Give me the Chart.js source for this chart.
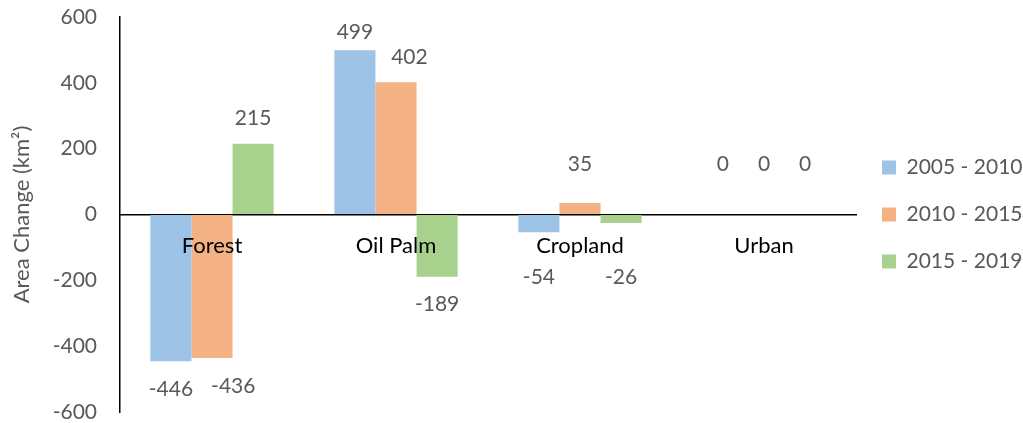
<!DOCTYPE html>
<html>
<head>
<meta charset="utf-8">
<script src="https://cdn.jsdelivr.net/npm/chart.js@4.4.1/dist/chart.umd.min.js"></script>
<style>
  html, body { margin: 0; padding: 0; background: #fff; }
  #wrap { width: 1023px; height: 423px; }
</style>
</head>
<body>
<div id="wrap"><canvas id="landChart" width="1023" height="423"></canvas></div>
<script>
// land cover change per period (km²)
const categories = ["Forest", "Oil Palm", "Cropland", "Urban"];
const periods = ["2005 - 2010", "2010 - 2015", "2015 - 2019"];
const change0510 = [-446, 499, -54, 0];
const change1015 = [-436, 402, 35, 0];
const change1519 = [215, -189, -26, 0];
const yTicks = [-600, -400, -200, 0, 200, 400, 600];

const colors = ["#9DC3E6", "#F4B183", "#A9D18E"];
const FONT = "Lato, 'Open Sans', sans-serif";

// value labels at the bar ends + category names over the bars, Excel style
const barLabels = {
  id: "barLabels",
  afterInit(chart) {
    // keep the legend narrow so the plot reaches ~856px
    const lg = chart.legend;
    const fit = lg.fit.bind(lg);
    lg.fit = function () { fit(); this.width = 167; };
  },
  afterDatasetsDraw(chart) {
    const ctx = chart.ctx;
    const x = chart.scales.x;
    const area = chart.chartArea;
    const zeroY = chart.scales.y.getPixelForValue(0);
    ctx.save();
    ctx.font = "21px " + FONT;
    ctx.textAlign = "center";
    ctx.textBaseline = "middle";
    ctx.fillStyle = "#595959";
    categories.forEach((c, j) => {
      let lastRight = { above: -1e9, below: -1e9 };
      chart.data.datasets.forEach((ds, i) => {
        const bar = chart.getDatasetMeta(i).data[j];
        const v = ds.data[j];
        const txt = String(v);
        const w = ctx.measureText(txt).width;
        let y, side;
        if (v < 0) {
          y = Math.max(bar.y + 28, zeroY + 63);
          side = "below";
        } else {
          y = Math.max(Math.min(bar.y - 25, zeroY - 50), area.top + 15);
          side = "above";
        }
        let cx = bar.x;
        if (cx - w / 2 < lastRight[side] + 18) cx = lastRight[side] + 18 + w / 2;
        lastRight[side] = cx + w / 2;
        ctx.fillText(txt, cx, y);
      });
    });
    ctx.font = "22px " + FONT;
    ctx.fillStyle = "#000";
    categories.forEach((c, j) => {
      ctx.fillText(c, x.getPixelForValue(j), zeroY + 31);
    });
    ctx.restore();
  }
};

new Chart(document.getElementById("landChart"), {
  type: "bar",
  data: {
    labels: categories,
    datasets: [
      { label: periods[0], data: change0510, backgroundColor: colors[0] },
      { label: periods[1], data: change1015, backgroundColor: colors[1] },
      { label: periods[2], data: change1519, backgroundColor: colors[2] }
    ]
  },
  options: {
    responsive: false,
    animation: false,
    layout: { autoPadding: false, padding: { top: 17, bottom: 11, left: 0, right: 0 } },
    datasets: {
      bar: { barPercentage: 1, categoryPercentage: 0.67 }
    },
    plugins: {
      legend: {
        position: "right",
        labels: {
          font: { family: FONT, size: 21 },
          color: "#595959",
          boxWidth: 14,
          boxHeight: 14,
          padding: 26
        }
      },
      tooltip: { enabled: false }
    },
    scales: {
      x: {
        position: { y: 0 },
        afterFit: s => { s.height = 0; },
        grid: { display: false, drawTicks: false },
        border: { color: "#000", width: 1.5 },
        ticks: { display: false }
      },
      y: {
        min: -600,
        max: 600,
        afterBuildTicks: s => { s.ticks = yTicks.map(v => ({ value: v })); },
        afterFit: s => { s.width = 120; },
        grid: {
          drawOnChartArea: false,
          drawTicks: true,
          tickLength: 23,
          tickColor: "rgba(0,0,0,0)"
        },
        border: { color: "#000", width: 1.5 },
        ticks: {
          font: { family: FONT, size: 21, lineHeight: 1 },
          color: "#595959",
          padding: 0
        },
        title: {
          display: true,
          text: "Area Change (km²)",
          font: { family: FONT, size: 22 },
          color: "#595959",
          padding: { top: 9, bottom: 0 }
        }
      }
    }
  },
  plugins: [barLabels]
});
</script>
</body>
</html>
